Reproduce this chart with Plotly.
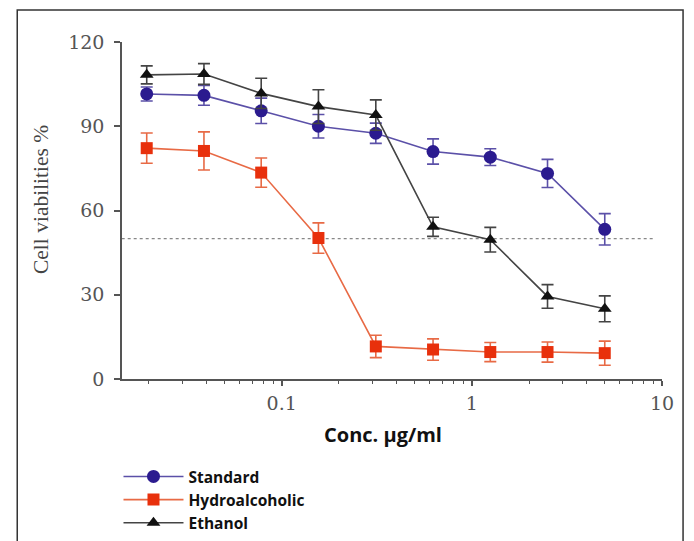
import plotly.graph_objects as go

conc = [0.0195, 0.039, 0.078, 0.156, 0.3125, 0.625, 1.25, 2.5, 5.0]

standard = [101.5, 101.0, 95.5, 90.0, 87.5, 81.0, 79.0, 73.2, 53.3]
standard_err = [2.5, 3.5, 4.5, 4.2, 3.6, 4.5, 3.0, 5.0, 5.6]

hydro = [82.2, 81.2, 73.5, 50.2, 11.6, 10.5, 9.6, 9.6, 9.2]
hydro_err = [5.4, 6.8, 5.2, 5.4, 4.0, 3.8, 3.4, 3.6, 4.3]

ethanol = [108.3, 108.6, 101.7, 97.0, 94.0, 54.2, 49.6, 29.4, 25.0]
ethanol_err = [3.2, 3.7, 5.4, 6.0, 5.4, 3.4, 4.4, 4.2, 4.6]

series_names = ["Standard", "Hydroalcoholic", "Ethanol"]
x_tickvals = [0.1, 1, 10]
x_ticklabels = ["0.1", "1", "10"]
x_minor = [m * d for d in (0.01, 0.1, 1) for m in range(2, 10)]
y_tickvals = [0, 30, 60, 90, 120]
ref_level = 50

serif = "Liberation Serif, Times New Roman, serif"
tickserif = "DejaVu Serif, serif"
sans = "Open Sans, Lato, sans-serif"

fig = go.Figure()

styles = [
    (standard, standard_err, "#2b1b8f", "#5b50a8", "circle", 13),
    (hydro, hydro_err, "#e8300c", "#e86a45", "square", 12),
    (ethanol, ethanol_err, "#111111", "#444444", "triangle-up", 12),
]
for name, (vals, errs, mcol, lcol, sym, sz) in zip(series_names, styles):
    fig.add_trace(go.Scatter(
        x=conc, y=vals, name=name, mode="lines+markers",
        line=dict(color=lcol, width=1.6),
        marker=dict(color=mcol, symbol=sym, size=sz),
        error_y=dict(type="data", array=errs, visible=True,
                     color=lcol, thickness=1.6, width=6),
    ))

fig.add_shape(type="line", xref="x", yref="y",
              x0=0.0144, x1=9.0, y0=ref_level, y1=ref_level,
              line=dict(color="#888888", width=1.4, dash="dot"), layer="below")

# outer frame
fig.add_shape(type="rect", xref="paper", yref="paper",
              x0=-0.194, x1=1.039, y0=-0.6, y1=1.095,
              line=dict(color="#333333", width=1.5))

fig.add_annotation(text="Cell viabilities %", xref="paper", yref="paper",
                   x=-0.15, y=0.531, xanchor="center", yanchor="middle",
                   textangle=-90, showarrow=False,
                   font=dict(family=serif, size=21.5, color="#444444"))
fig.add_annotation(text="<b>Conc. µg/ml</b>", xref="paper", yref="paper",
                   x=0.483, y=-0.165, xanchor="center", yanchor="middle",
                   showarrow=False,
                   font=dict(family=sans, size=20, color="#111111"))

fig.update_layout(
    width=686, height=533,
    margin=dict(l=114, r=32, t=34, b=162, autoexpand=False),
    paper_bgcolor="white", plot_bgcolor="white",
    showlegend=True,
    legend=dict(x=-0.0065, y=-0.24, xanchor="left", yanchor="top",
                font=dict(family=sans, size=15.5, color="#111111", weight="bold"),
                bgcolor="rgba(0,0,0,0)", tracegroupgap=0,
                itemwidth=60),
    xaxis=dict(
        type="log", range=[-1.84, 1.0],
        tickvals=x_tickvals, ticktext=x_ticklabels,
        ticks="outside", ticklen=5, tickwidth=1.5, tickcolor="#555555",
        minor=dict(tickvals=x_minor, ticks="outside", ticklen=3,
                   tickwidth=1.2, tickcolor="#555555", showgrid=False),
        showline=True, linecolor="#555555", linewidth=1.5,
        showgrid=False, zeroline=False, ticklabelstandoff=1,
        tickfont=dict(family=tickserif, size=19, color="#555555"),
    ),
    yaxis=dict(
        range=[0, 120], tickvals=y_tickvals,
        ticks="outside", ticklen=6, tickwidth=1.5, tickcolor="#555555",
        showline=True, linecolor="#555555", linewidth=1.5,
        showgrid=False, zeroline=False, ticklabelstandoff=6,
        tickfont=dict(family=tickserif, size=19, color="#555555"),
    ),
)

fig.write_html("out.html")
